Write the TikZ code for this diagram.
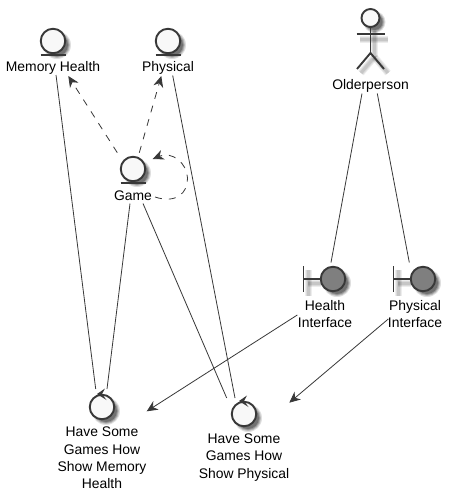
\documentclass[tikz,border=0pt]{standalone}
\usepackage{fontspec}
\setmainfont{Liberation Sans}
\usetikzlibrary{arrows.meta}
\definecolor{ink}{HTML}{383838}
\definecolor{paper}{HTML}{F8F8F8}
\definecolor{slate}{HTML}{7F7F7F}
\newcommand{\softdisc}[3]{\foreach \rr/\oo in {3/.12,2/.16,1/.2,0/.24}{\fill[black,opacity=\oo] (#1+4,#2+4) circle[radius=#3+\rr-1];}}
\newcommand{\softbar}[4]{\foreach \ww/\oo in {7/.07,5/.08,3/.09}{\draw[black,opacity=\oo,line width=\ww pt] (#1,#2) -- (#3,#4);}}
\tikzset{
  x=1pt,y=-1pt,
  lab/.style={font=\fontsize{13.9}{17.4}\selectfont,text=black,align=center,inner sep=0pt},
  iconbase/.style={circle,draw=ink,line width=1.9pt,minimum size=24.5pt,inner sep=0pt,outer sep=0pt,fill=paper},
  boundaryicon/.style={iconbase,fill=slate},
  headicon/.style={iconbase,minimum size=18pt},
  stroke/.style={draw=ink,line width=1.9pt},
  conn/.style={draw=ink,line width=.8pt},
  tip/.style={-{Stealth[length=11pt,width=10pt,inset=3.5pt]}},
  dep/.style={conn,tip,dash pattern=on 7pt off 7pt}
}
\begin{document}
\begin{tikzpicture}
\useasboundingbox[fill=white] (0,0) rectangle (453,501);
% shadows
\softdisc{53}{41}{12}
\softdisc{168}{41}{12}
\softdisc{133}{169}{12}
\softdisc{102}{407}{12}
\softdisc{244}{414}{12}
\softdisc{333}{279}{12}
\softdisc{423}{279}{12}
\softdisc{370.5}{18}{9}
\softbar{360}{39}{388}{39}
\softbar{374.5}{31}{374.5}{57}
\softbar{374.5}{57}{361}{73}
\softbar{374.5}{57}{388}{73}
\softbar{308}{270}{308}{296}
\softbar{398}{270}{398}{296}
\softbar{308}{283}{321}{283}
\softbar{398}{283}{411}{283}
% entities
\node[iconbase] (mh) at (53,41) {};
\node[iconbase] (ph) at (168,41) {};
\node[iconbase] (game) at (133,169) {};
\foreach \n in {mh,ph,game}{\draw[stroke] ([xshift=-12.5pt,yshift=-14pt]\n.center) -- ([xshift=12.5pt,yshift=-14pt]\n.center);}
\node[lab] (mhl) at (53,67.5) {Memory Health};
\node[lab] (phl) at (168,67.5) {Physical};
\node[lab] (gamel) at (133,195.5) {Game};
% actor
\node[headicon] (head) at (370.5,18) {};
\draw[stroke] (head.south) -- ++(0,26) coordinate (hip);
\draw[stroke] (356.5,34) -- (384.5,34);
\draw[stroke] (357,69) -- (hip) -- (384,69);
\node[lab] (old) at (370.5,85.5) {Olderperson};
% boundaries
\node[boundaryicon] (hi) at (333,279) {};
\node[boundaryicon] (pi) at (423,279) {};
\foreach \n in {hi,pi}{
  \draw[stroke] (\n.west) -- ++(-17,0);
  \draw[stroke] ([xshift=-29.5pt,yshift=13pt]\n.center) -- ([xshift=-29.5pt,yshift=-13pt]\n.center);
}
\node[lab] (hil) at (325,314) {Health\\Interface};
\node[lab] (pil) at (415,314) {Physical\\Interface};
% controls
\node[iconbase] (ca) at (102,407) {};
\node[iconbase] (cb) at (244,414) {};
\foreach \n in {ca,cb}{
  \fill[ink] ([xshift=-5pt,yshift=13pt]\n.center) -- ([xshift=3pt,yshift=18.5pt]\n.center) -- ([xshift=0pt,yshift=13pt]\n.center) -- ([xshift=4.5pt,yshift=7pt]\n.center) -- cycle;
}
\node[lab] (cal) at (102,458) {Have Some\\Games How\\Show Memory\\Health};
\node[lab] (cbl) at (244,457.5) {Have Some\\Games How\\Show Physical};
% connectors
\draw[conn] ([xshift=3pt,yshift=-7.5pt]mhl.center) -- ([xshift=-6.3pt,yshift=18pt]ca.center);
\draw[conn] ([xshift=-3pt,yshift=-8pt]gamel.center) -- ([xshift=5pt,yshift=18pt]ca.center);
\draw[conn] ([xshift=10pt,yshift=-8pt]gamel.center) -- ([xshift=-17.3pt,yshift=16pt]cb.center);
\draw[conn] ([xshift=4.7pt,yshift=-8pt]phl.center) -- ([xshift=-9pt,yshift=16pt]cb.center);
\draw[conn] ([xshift=-8.5pt,yshift=-8pt]old.center) -- ([xshift=-2pt,yshift=16.5pt]hi.center);
\draw[conn] ([xshift=6.8pt,yshift=-8pt]old.center) -- ([xshift=-13.7pt,yshift=16.5pt]pi.center);
\draw[conn,tip] ([xshift=-27.7pt,yshift=-1pt]hil.center) -- ([xshift=44.7pt,yshift=-4.3pt]ca.center);
\draw[conn,tip] ([xshift=-26.7pt,yshift=-5pt]pil.center) -- ([xshift=45.3pt,yshift=11.3pt]cb.center);
\draw[dep] ([xshift=-15.7pt,yshift=16.3pt]game.center) -- ([xshift=15.3pt,yshift=-8.5pt]mhl.center);
\draw[dep] ([xshift=6.3pt,yshift=16.3pt]game.center) -- ([xshift=-6.7pt,yshift=-8.5pt]phl.center);
\draw[dep] ([xshift=22pt,yshift=-1.5pt]gamel.center) .. controls (176,204) and (188,193) .. (187.5,178) .. controls (187,163) and (172,151) .. ([xshift=19.7pt,yshift=10pt]game.center);
\end{tikzpicture}
\end{document}
